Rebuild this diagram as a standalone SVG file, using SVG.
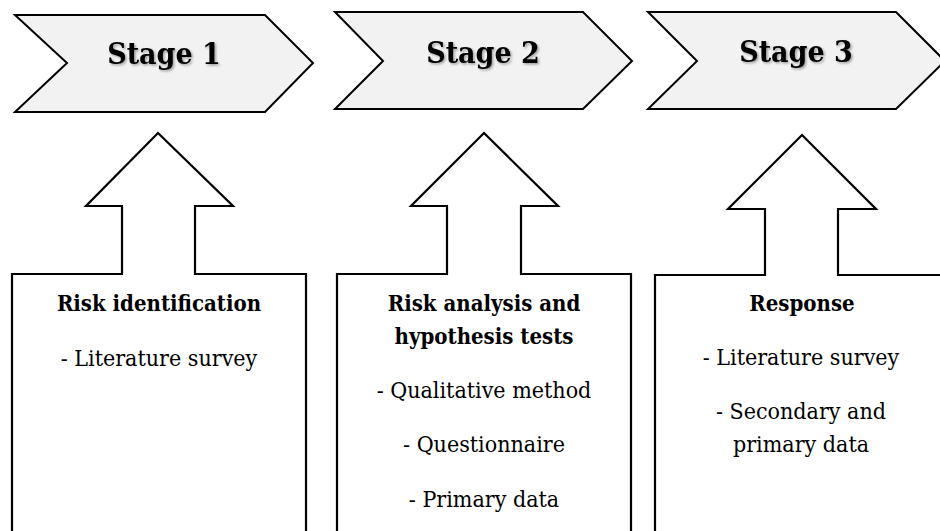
<svg xmlns="http://www.w3.org/2000/svg" width="940" height="531" viewBox="0 0 940 531">
<style>
.chev{fill:#f2f2f2;stroke:#000;stroke-width:2;stroke-linejoin:miter}
.box{fill:#fff;stroke:#000;stroke-width:2.2;stroke-linejoin:miter}
text{font-family:"DejaVu Serif Condensed","DejaVu Serif",serif;font-stretch:condensed;text-anchor:middle;fill:#000}
.stage{font-weight:bold;font-size:30px}
.head{font-weight:bold;font-size:22px}
.body{font-size:23px}
</style>
<defs>
<filter id="sh" x="-10%" y="-20%" width="130%" height="150%">
<feDropShadow dx="1.5" dy="1.5" stdDeviation="1" flood-color="#000" flood-opacity="0.35"/>
</filter>
</defs>
<rect width="940" height="531" fill="#fff"/>
<g id="connectors"></g>
<g id="stage1">
<polygon class="chev" points="15,15 265,15 313,63 265,112 15,112 67,63"/>
<text class="stage" x="164" y="64" filter="url(#sh)">Stage 1</text>
</g>
<g id="stage2">
<polygon class="chev" points="335,12 583,12 632,61 583,109 335,109 383,61"/>
<text class="stage" x="483" y="63" filter="url(#sh)">Stage 2</text>
</g>
<g id="stage3">
<polygon class="chev" points="648,12 896,12 945,61 896,109 648,109 697,61"/>
<text class="stage" x="796" y="62" filter="url(#sh)">Stage 3</text>
</g>
<g id="box1">
<path class="box" d="M12,540 V274 H122 V206 H86 L158,133 L233,206 H195 V274 H306 V540"/>
<text class="head" x="159" y="311">Risk identification</text>
<text class="body" x="159" y="366">- Literature survey</text>
</g>
<g id="box2">
<path class="box" d="M337,540 V274 H447 V206 H411 L484,133 L558,206 H521 V274 H631 V540"/>
<text class="head" x="484" y="311">Risk analysis and</text>
<text class="head" x="484" y="344">hypothesis tests</text>
<text class="body" x="484" y="398">- Qualitative method</text>
<text class="body" x="484" y="452">- Questionnaire</text>
<text class="body" x="484" y="507">- Primary data</text>
</g>
<g id="box3">
<path class="box" d="M655,540 V275 H765 V209 H728 L802,135 L876,209 H838 V275 H949 V540"/>
<text class="head" x="802" y="311">Response</text>
<text class="body" x="801" y="365">- Literature survey</text>
<text class="body" x="801" y="419">- Secondary and</text>
<text class="body" x="801" y="452">primary data</text>
</g>
</svg>
